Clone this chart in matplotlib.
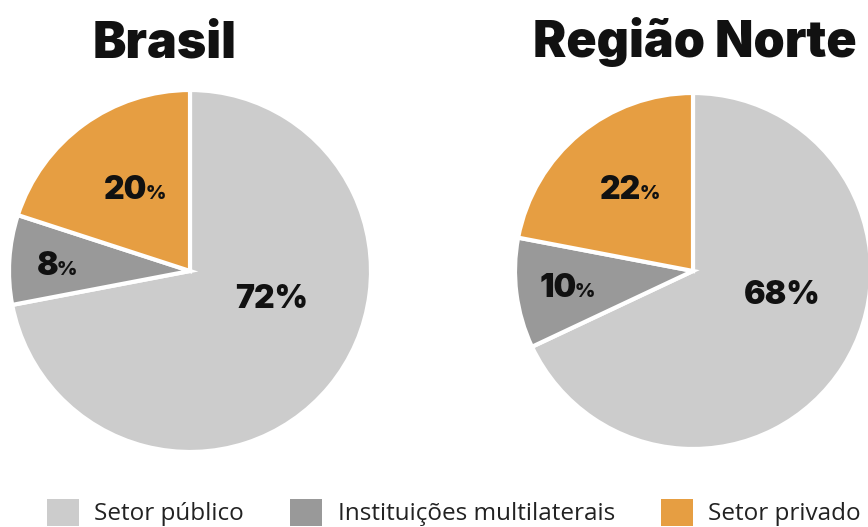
import matplotlib
matplotlib.use("Agg")
import matplotlib.pyplot as plt
from matplotlib.patches import Patch

# ---- data ----
categories = ["Setor público", "Instituições multilaterais", "Setor privado"]
brasil_values = [72, 8, 20]
norte_values = [68, 10, 22]
titles = ["Brasil", "Região Norte"]

colors = ["#cccccc", "#999999", "#e69e42"]

W, H = 868, 527
fig = plt.figure(figsize=(W / 100, H / 100), dpi=100)
fig.patch.set_facecolor("white")

HEAVY = dict(family=["Inter", "DejaVu Sans"], fontweight="black", color="#111111")

# pie layout (pixels): center x, center y (from top), radius
pies = [(190, 271, 181), (693, 271, 178)]
title_x = [165, 695]
# label centers in radius units, and whether % is small
label_pos = [
    [(0.45, -0.16, False), (-0.73, 0.04, True), (-0.30, 0.46, True)],
    [(0.50, -0.14, False), (-0.70, -0.08, True), (-0.35, 0.47, True)],
]

renderer = fig.canvas.get_renderer()

for i, vals in enumerate([brasil_values, norte_values]):
    cx, cy, r = pies[i]
    ax = fig.add_axes([(cx - r) / W, (H - cy - r) / H, 2 * r / W, 2 * r / H])
    ax.pie(vals, colors=colors, startangle=90, counterclock=False,
           wedgeprops=dict(edgecolor="white", linewidth=3), radius=1)
    ax.set_xlim(-1, 1)
    ax.set_ylim(-1, 1)
    ax.set_aspect("equal")
    ax.axis("off")
    for v, (lx, ly, small) in zip(vals, label_pos[i]):
        if not small:
            ax.text(lx, ly, f"{v}%", ha="center", va="center", fontsize=23, **HEAVY)
        else:
            t1 = ax.text(lx, ly, f"{v}", ha="right", va="baseline", fontsize=23, **HEAVY)
            t2 = ax.text(lx, ly, "%", ha="left", va="baseline", fontsize=14, **HEAVY)
            w1 = t1.get_window_extent(renderer).width
            w2 = t2.get_window_extent(renderer).width
            dx = (w1 - w2) / 2 / r
            gap = 2.0 / r
            cap = 23 * 0.72 * 100 / 72 / 2 / r
            t1.set_position((lx + dx, ly - cap))
            t2.set_position((lx + dx - gap, ly - cap))
    fig.text(title_x[i] / W, 1 - 57 / H, titles[i], ha="center", va="baseline",
             fontsize=36, **HEAVY)

handles = [Patch(facecolor=c, edgecolor="none") for c in colors]
fig.legend(handles, categories, loc="lower center", ncol=3,
           bbox_to_anchor=(454 / W, -0.022), frameon=False,
           prop=dict(family=["Open Sans", "DejaVu Sans"], size=17.5),
           handlelength=1.3, handleheight=1.3, handletextpad=0.65,
           columnspacing=1.9, borderpad=0, labelcolor="#222222")

fig.savefig("out.png", dpi=100, facecolor="white")
